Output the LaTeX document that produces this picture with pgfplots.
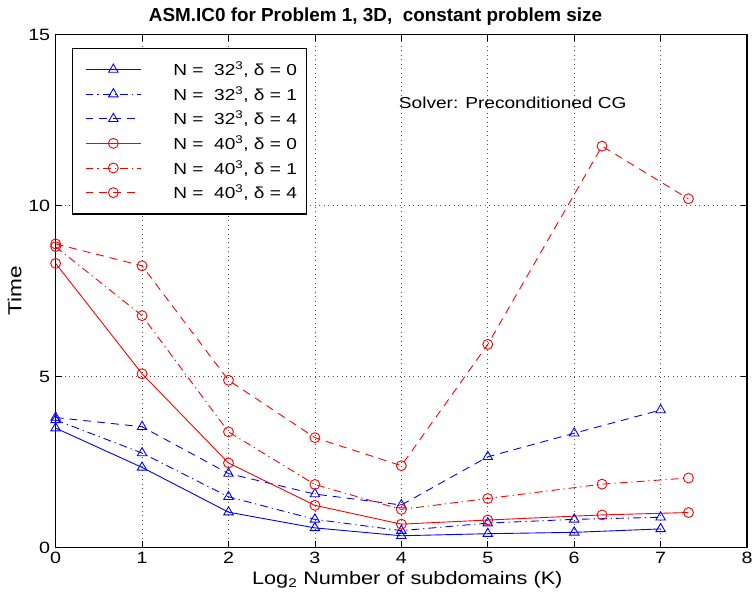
\documentclass[border=0pt]{standalone}
\usepackage{fontspec}
\setmainfont{Liberation Sans}[FakeStretch=1.2]
\newfontfamily\titlefont{Liberation Sans}
\usepackage{pgfplots}
\pgfplotsset{compat=1.18}
\definecolor{mblue}{rgb}{0,0,1}
\definecolor{mred}{rgb}{1,0,0}
\begin{document}
\begin{tikzpicture}
\begin{axis}[
  name=ax,
  scale only axis, width=696pt, height=516pt,
  xmin=0, xmax=8, ymin=0, ymax=15,
  xtick={0,1,2,3,4,5,6,7,8}, ytick={0,5,10,15},
  tick align=inside, major tick length=6pt,
  tick style={black, line width=0.8pt},
  grid=major, grid style={black!70, dash pattern=on 0.9pt off 3.6pt, line width=0.8pt},
  axis line style={black, line width=1.2pt},
  /pgf/number format/assume math mode=true,
  ticklabel style={font=\fontsize{16.5}{18}\selectfont},
  xticklabel style={yshift=-1pt},
  yticklabel style={xshift=-2pt},
  title={\titlefont\bfseries ASM.IC0 for Problem 1, 3D, \ constant problem size},
  title style={font=\fontsize{19}{21}\selectfont, yshift=0pt, xshift=-26pt},
  xlabel={Log\textsubscript{2} Number of subdomains (K)},
  xlabel style={font=\fontsize{18.2}{20}\selectfont, yshift=-1pt, xshift=6pt},
  ylabel={Time},
  ylabel style={font=\fontsize{19}{21}\selectfont, yshift=0pt},
  every axis plot/.append style={line width=0.9pt},
  legend cell align=left,
  legend style={at={(0.023,0.975)}, anchor=north west, draw=black, line width=1.3pt,
    fill=white, font=\fontsize{16}{19}\selectfont, inner xsep=8pt, inner ysep=9pt,
    row sep=0pt, nodes={inner ysep=4.6pt},
    /tikz/every odd column/.append style={column sep=30pt}},
  legend image code/.code={%
    \path (0pt,0pt);
    \draw[mark repeat=2, mark phase=2, #1] plot coordinates {(5pt,0pt) (33pt,0pt) (61pt,0pt)};},
]
\pgfplotsset{
  bl/.style={color=mblue, mark=triangle, mark size=5.5pt, mark options={solid, fill=none, line width=0.9pt}},
  rd/.style={color=mred, mark=o, mark size=5pt, mark options={solid, fill=none, line width=0.9pt}},
  dsh/.style={dash pattern=on 8pt off 6pt},
  dd/.style={dash pattern=on 8pt off 4pt on 1.2pt off 4pt},
}
\addplot[bl] coordinates {(0,3.49) (1,2.34) (2,1.03) (3,0.57) (4,0.34) (5,0.40) (6,0.44) (7,0.54)};
\addlegendentry{N = \ 32\textsuperscript{3}, δ = 0}
\addplot[bl, dd] coordinates {(0,3.73) (1,2.76) (2,1.48) (3,0.82) (4,0.49) (5,0.71) (6,0.82) (7,0.88)};
\addlegendentry{N = \ 32\textsuperscript{3}, δ = 1}
\addplot[bl, dsh] coordinates {(0,3.80) (1,3.53) (2,2.16) (3,1.56) (4,1.24) (5,2.65) (6,3.34) (7,4.02)};
\addlegendentry{N = \ 32\textsuperscript{3}, δ = 4}
\addplot[rd] coordinates {(0,8.31) (1,5.08) (2,2.47) (3,1.23) (4,0.68) (5,0.80) (6.322,0.95) (7.322,1.02)};
\addlegendentry{N = \ 40\textsuperscript{3}, δ = 0}
\addplot[rd, dd] coordinates {(0,8.80) (1,6.78) (2,3.38) (3,1.84) (4,1.11) (5,1.43) (6.322,1.85) (7.322,2.03)};
\addlegendentry{N = \ 40\textsuperscript{3}, δ = 1}
\addplot[rd, dsh] coordinates {(0,8.88) (1,8.24) (2,4.89) (3,3.21) (4,2.39) (5,5.94) (6.322,11.74) (7.322,10.2)};
\addlegendentry{N = \ 40\textsuperscript{3}, δ = 4}
\node[anchor=west, font=\fontsize{16}{18}\selectfont, inner sep=0pt] at (axis cs:3.97,13.02) {Solver: Preconditioned CG};
\end{axis}
\pgfresetboundingbox
\path ([shift={(-56pt,-48pt)}]ax.south west) rectangle ([shift={(8pt,35pt)}]ax.north east);
\end{tikzpicture}
\end{document}
